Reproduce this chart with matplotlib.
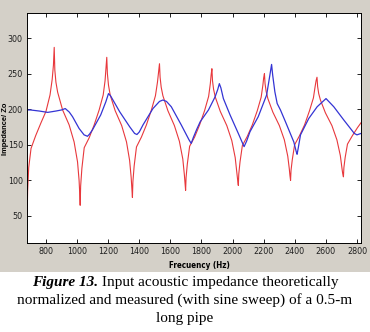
import matplotlib
matplotlib.use("Agg")
import matplotlib.pyplot as plt
from matplotlib import font_manager as fm
from matplotlib.font_manager import FontProperties
import os

def find_font(keys, fallback_family, weight="normal"):
    files = [f.fname for f in fm.fontManager.ttflist]
    for k in keys:
        for fn in files:
            if os.path.basename(fn).lower() == k.lower():
                return FontProperties(fname=fn)
    return FontProperties(family=fallback_family, weight=weight)

# Theoretical (red) impedance
red_f = [679, 682, 689, 704, 734, 768, 800, 826, 840, 848,
         853, 857, 864, 875, 907, 949, 981, 1003, 1013, 1017,
         1020, 1023, 1031, 1046, 1078, 1110, 1142, 1168, 1180, 1186,
         1191, 1195, 1202, 1213, 1245, 1287, 1318, 1338, 1348, 1352,
         1356, 1359, 1367, 1382, 1414, 1446, 1478, 1504, 1517, 1524,
         1530, 1534, 1541, 1552, 1584, 1626, 1658, 1680, 1690, 1694,
         1698, 1701, 1709, 1724, 1756, 1788, 1820, 1846, 1857, 1862,
         1867, 1871, 1878, 1889, 1921, 1963, 1995, 2017, 2027, 2032,
         2037, 2040, 2048, 2063, 2095, 2127, 2159, 2184, 2195, 2200,
         2205, 2209, 2216, 2227, 2259, 2301, 2333, 2355, 2365, 2369,
         2373, 2376, 2384, 2399, 2431, 2463, 2495, 2520, 2531, 2537,
         2543, 2547, 2554, 2565, 2597, 2639, 2671, 2693, 2703, 2708,
         2713, 2716, 2724, 2739, 2771, 2803, 2826]
red_z = [48, 85, 118, 145, 163, 181, 197, 220, 242, 262,
         287, 255, 238, 224, 199, 178, 154, 126, 100, 82,
         65, 92, 117, 146, 160, 178, 199, 220, 240, 258,
         273, 250, 234, 220, 198, 177, 154, 128, 104, 90,
         76, 98, 120, 147, 161, 178, 199, 219, 238, 252,
         264, 245, 231, 219, 198, 177, 155, 130, 108, 97,
         86, 104, 123, 148, 161, 178, 198, 218, 236, 248,
         257, 240, 228, 217, 197, 177, 156, 132, 112, 102,
         93, 109, 126, 149, 162, 178, 198, 217, 234, 244,
         250, 236, 225, 215, 196, 177, 157, 134, 116, 107,
         100, 114, 129, 150, 163, 178, 198, 216, 232, 240,
         245, 232, 222, 213, 195, 177, 157, 135, 118, 110,
         105, 118, 132, 151, 163, 174, 181]

# Measured (blue) impedance
blue_f = [678, 700, 757, 811, 864, 900, 924, 950, 971, 1013,
          1045, 1067, 1080, 1099, 1152, 1185, 1202, 1215, 1274, 1338,
          1370, 1385, 1400, 1424, 1488, 1530, 1552, 1575, 1606, 1670,
          1720, 1734, 1749, 1770, 1792, 1845, 1888, 1905, 1915, 1925,
          1941, 1984, 2037, 2074, 2090, 2112, 2165, 2219, 2240, 2251,
          2258, 2272, 2287, 2308, 2340, 2394, 2410, 2415, 2422, 2437,
          2490, 2544, 2601, 2651, 2715, 2783, 2800, 2826]
blue_z = [199, 199, 197.5, 195.6, 197.5, 199, 201, 196, 189.5, 173,
          164, 162, 165, 171, 192, 210.5, 222, 219, 196.5, 175.5,
          166, 164.5, 168, 178, 201, 211, 213, 211, 203.5, 178,
          157, 152, 161, 172, 182.5, 199, 217.6, 228, 236, 230,
          215, 192, 166, 147.4, 155, 168.4, 189.5, 220, 248, 263,
          248, 224.6, 208, 199, 182.5, 154, 140, 136.7, 145, 164,
          187, 203.5, 215, 203.5, 185, 166, 164, 166]

x_ticks = [800, 1000, 1200, 1400, 1600, 1800, 2000, 2200, 2400, 2600, 2800]
y_ticks = [50, 100, 150, 200, 250, 300]

caption_bold = "Figure 13."
caption_lines = [" Input acoustic impedance theoretically",
                 "normalized and measured (with sine sweep) of a 0.5-m",
                 "long pipe"]

W, H = 370, 332
fig = plt.figure(figsize=(W / 100, H / 100), dpi=100)
fig.patch.set_facecolor("white")

tick_fp = find_font(["LiberationSansNarrow-Regular.ttf", "DejaVuSansCondensed.ttf",
                     "RobotoCondensed-Regular.ttf"], "Liberation Sans")
tick_fp.set_size(6.4)
lab_fp = find_font(["LiberationSansNarrow-Bold.ttf", "DejaVuSansCondensed-Bold.ttf",
                    "RobotoCondensed-Bold.ttf"], "Liberation Sans", "bold")
lab_fp.set_size(5.8)

# gray MATLAB figure background
bg = fig.add_axes([0, 1 - 272 / H, 1, 272 / H], zorder=0)
bg.set_axis_off()
bg.add_patch(plt.Rectangle((0, 0), 1, 1, transform=bg.transAxes,
                           facecolor="#d4d0c8", edgecolor="none"))

ax = fig.add_axes([27 / W, 1 - 243 / H, (361 - 27) / W, (243 - 12.5) / H], zorder=2)
ax.set_facecolor("white")
ax.plot(red_f, red_z, color="#e8383c", lw=0.8)
ax.plot(blue_f, blue_z, color="#3434d4", lw=0.9)
ax.set_xlim(678, 2826)
ax.set_ylim(12, 336)
ax.set_xticks(x_ticks)
ax.set_yticks(y_ticks)
ax.tick_params(direction="in", length=3, width=0.6, top=True, right=True,
               pad=3, colors="black")
for lab in ax.get_xticklabels() + ax.get_yticklabels():
    lab.set_fontproperties(tick_fp)
    lab.set_color("#202020")
for s in ax.spines.values():
    s.set_linewidth(0.7)
    s.set_color("black")

fig.text(199 / W, 1 - 265 / H, "Frecuency (Hz)", ha="center", va="center",
         fontproperties=lab_fp, zorder=3)
fig.text(5.5 / W, 1 - 129 / H, "Impedance/ Zo", ha="center", va="center",
         rotation=90, fontsize=5.4, fontweight="bold", family="Liberation Sans",
         zorder=3)

# caption
fig.canvas.draw()
r = fig.canvas.get_renderer()
fs = 11
ys = [286, 304, 322]
t_b = fig.text(0, 1 - ys[0] / H, caption_bold, fontsize=fs, family="Liberation Serif",
               fontweight="bold", fontstyle="italic", va="baseline", ha="left")
t_1 = fig.text(0, 1 - ys[0] / H, caption_lines[0], fontsize=fs, family="Liberation Serif",
               va="baseline", ha="left")
wb = t_b.get_window_extent(r).width
w1 = t_1.get_window_extent(r).width
x0 = (W / 2 - (wb + w1) / 2)
t_b.set_x(x0 / W)
t_1.set_x((x0 + wb) / W)
for txt, y in zip(caption_lines[1:], ys[1:]):
    fig.text(0.5, 1 - y / H, txt, fontsize=fs, family="Liberation Serif",
             ha="center", va="baseline")

fig.savefig("out.png", dpi=100)
